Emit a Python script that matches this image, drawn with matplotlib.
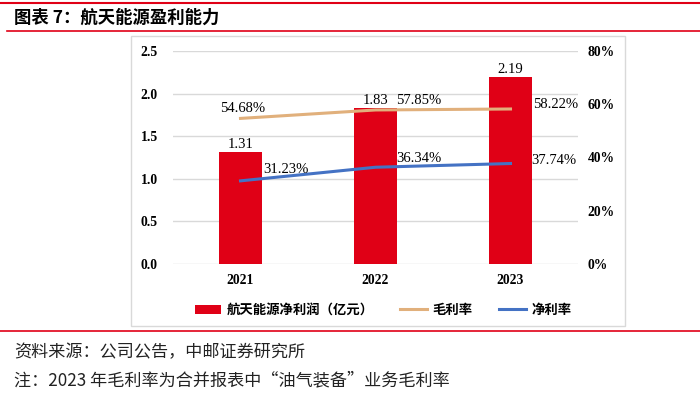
import matplotlib.pyplot as plt
from matplotlib.lines import Line2D
from matplotlib.patches import Rectangle

plt.rcParams['font.family'] = ['Liberation Serif', 'Noto Sans CJK SC']

years = ["2021", "2022", "2023"]
net_profit = [1.31, 1.83, 2.19]
gross_margin = [54.68, 57.85, 58.22]
net_margin = [31.23, 36.34, 37.74]

red = "#E00016"
tan = "#E1B07C"
blue = "#4472C4"
cjk = ['Noto Sans CJK SC', 'DejaVu Sans']

fig = plt.figure(figsize=(7, 3.97), dpi=100)

# decorative lines and box
fig.add_artist(Line2D([0, 1], [1 - 3/397, 1 - 3/397], color=red, lw=1.5))
fig.add_artist(Line2D([0.01, 1], [1 - 31/397, 1 - 31/397], color=red, lw=1.2))
fig.add_artist(Line2D([0, 1], [1 - 331/397, 1 - 331/397], color=red, lw=1.2))
fig.add_artist(Rectangle((131/700, 1 - 326/397), (625 - 131)/700, (326 - 36)/397,
                         fill=False, edgecolor="#D9D9D9", lw=1))

fig.text(14/700, 1 - 18/397, "图表 7：航天能源盈利能力", family=cjk, fontsize=12.5,
         fontweight="bold", va="center", ha="left")
fig.text(14/700, 1 - 352/397, "资料来源：公司公告，中邮证券研究所", family=cjk, fontsize=12.3,
         va="center", ha="left", color="#222222")
fig.text(14/700, 1 - 380/397, "注：2023 年毛利率为合并报表中“油气装备”业务毛利率", family=cjk,
         fontsize=12.3, va="center", ha="left", color="#222222")

ax = fig.add_axes([173/700, 1 - 264/397, 405/700, 213/397])
x = list(range(len(years)))
bars = ax.bar(x, net_profit, width=0.32, color=red, zorder=2, label="航天能源净利润（亿元）")
ax.set_ylim(0, 2.5)
ax.set_xlim(-0.5, 2.5)
ax.set_yticks([0, 0.5, 1.0, 1.5, 2.0, 2.5])
ax.set_yticklabels([f"{v:.1f}" for v in [0, 0.5, 1.0, 1.5, 2.0, 2.5]])
ax.set_xticks(x)
ax.set_xticklabels(years)
ax.grid(axis="y", color="#D9D9D9", lw=1, zorder=0)
for s in ax.spines.values():
    s.set_visible(False)
ax.tick_params(length=0, labelsize=9.8)
ax.tick_params(axis="y", pad=11)
ax.tick_params(axis="x", pad=7)
for lab in ax.get_xticklabels() + ax.get_yticklabels():
    lab.set_fontweight("bold")

for xi, v in zip(x, net_profit):
    ax.annotate(f"{v:.2f}", (xi, v), xytext=(0, 5.5), textcoords="offset points",
                ha="center", va="center", fontsize=10.5)

ax2 = ax.twinx()
ax2.set_ylim(0, 80)
ax2.set_yticks([0, 20, 40, 60, 80])
ax2.set_yticklabels([f"{v}%" for v in [0, 20, 40, 60, 80]])
for s in ax2.spines.values():
    s.set_visible(False)
ax2.tick_params(length=0, labelsize=9.8, pad=7)
for lab in ax2.get_yticklabels():
    lab.set_fontweight("bold")
l1, = ax2.plot(x, gross_margin, color=tan, lw=2.2, label="毛利率", zorder=3)
l2, = ax2.plot(x, net_margin, color=blue, lw=2.2, label="净利率", zorder=3)

gm_off = [(1.5, 7), (31, 7), (32.5, 3)]
nm_off = [(32.5, 8.5), (31, 6), (31.5, 2.5)]
for xi, v, off in zip(x, gross_margin, gm_off):
    ax2.annotate(f"{v:.2f}%", (xi, v), xytext=off, textcoords="offset points",
                 ha="center", va="center", fontsize=10.5)
for xi, v, off in zip(x, net_margin, nm_off):
    ax2.annotate(f"{v:.2f}%", (xi, v), xytext=off, textcoords="offset points",
                 ha="center", va="center", fontsize=10.5)

leg = fig.legend(handles=[bars, l1, l2], loc="center", bbox_to_anchor=(383/700, 1 - 310/397),
                 ncol=3, frameon=False, prop={'family': cjk, 'size': 9.6, 'weight': 'bold'},
                 handlelength=2.0, columnspacing=2.0, handletextpad=0.4)

fig.savefig("out.png", dpi=100)
